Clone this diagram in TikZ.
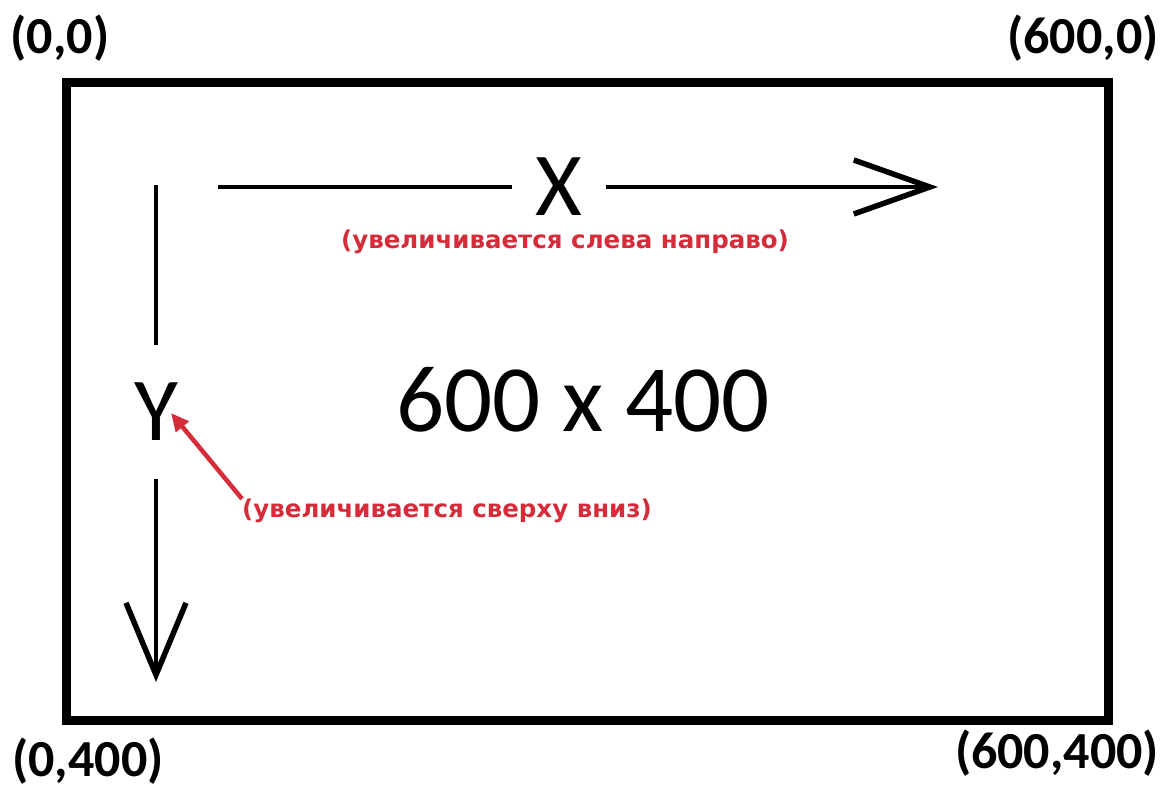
\documentclass[tikz,border=0pt]{standalone}
\usepackage{fontspec}
\setmainfont{Carlito}
\newfontfamily\notefont{DejaVu Sans}
\usetikzlibrary{positioning, arrows.meta}
\definecolor{notered}{RGB}{214,44,58}

\tikzset{
  frame/.style={draw=black, line width=9pt},
  cornerlabel/.style={inner sep=0pt, font=\bfseries\fontsize{52}{60}\selectfont},
  axislabel/.style={inner sep=0pt, font=\fontsize{90}{100}\selectfont},
  axisline/.style={draw=black, line width=4pt},
  notelabel/.style={inner sep=0pt, text=notered, font=\notefont\bfseries\fontsize{24.5}{28}\selectfont},
}

\begin{document}
\begin{tikzpicture}[x=1pt, y=-1pt]
  \useasboundingbox[fill=white] (0,0) rectangle (1176,791);

  % the canvas
  \coordinate (tl) at (66,83);
  \coordinate (br) at (1108,720);
  \draw[frame] (tl) rectangle (br);

  % corner coordinates
  \node[cornerlabel] (c00) at (60,38) {(0,0)};
  \node[cornerlabel] (c60) at (1083,38) {(600,0)};
  \node[cornerlabel] (c04) at (88,761) {(0,400)};
  \node[cornerlabel] (c64) at (1057,753) {(600,400)};

  % x axis
  \node[axislabel, minimum width=93pt] (xlab) at (559,187) {X};
  \coordinate (xstart) at (218,187);
  \coordinate (xend) at (938,187);
  \draw[axisline] (xstart) -- (xlab.west);
  \draw[axisline, -{Straight Barb[length=76pt, width=54pt, line width=5.5pt]}] (xlab.east) -- (xend);
  \node[notelabel, below=14pt of xlab, xshift=6pt] (xnote) {(увеличивается слева направо)};

  % y axis
  \node[axislabel, minimum height=133pt] (ylab) at (156,412) {Y};
  \coordinate (ystart) at (156,185);
  \coordinate (yend) at (156,682);
  \draw[axisline, line width=3.5pt] (ystart) -- (ylab.north);
  \draw[axisline, line width=3.5pt, -{Straight Barb[length=72pt, width=60pt, line width=5.5pt]}] (ylab.south) -- (yend);
  \node[notelabel] (ynote) at (447,511) {(увеличивается сверху вниз)};
  \coordinate (yhint) at (171,413);
  \draw[notered, line width=4.5pt, -{Triangle[length=18pt, width=16pt]}] (ynote.north west) -- (yhint);

  % size
  \node[axislabel, font=\fontsize{95}{105}\selectfont] (size) at (583,400) {600 x 400};
\end{tikzpicture}
\end{document}
